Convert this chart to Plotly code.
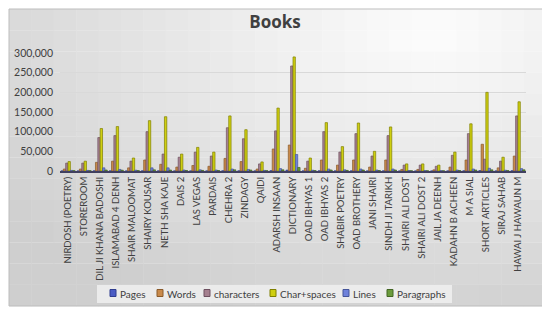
import math
import plotly.graph_objects as go

categories = ["NIRDOSH (POETRY)", "STOREROOM", "DIL JI KHANA BADOSHI", "ISLAMABAD 4 DENH",
              "SHAIR MALOOMAT", "SHAIRY KOUSAR", "NETH SHA KAJE", "DAIS 2", "LAS VEGAS",
              "PARDAIS", "CHEHRA 2", "ZINDAGY", "QAIDI", "ADARSH INSAAN", "DICTIONARY",
              "OAD IBHYAS 1", "OAD IBHYAS 2", "SHABIR POETRY", "OAD BROTHERY", "JANI SHAIRI",
              "SINDH JI TARIKH", "SHAIRI ALI DOST", "SHAIRI ALI DOST 2", "JAIL JA DEENH",
              "KADAHN B ACHEEN", "M A SIAL", "SHORT ARTICLES", "SIRAJ SAHAB", "HAWAI J HAWAUN M"]

pages = [60, 70, 300, 320, 100, 350, 380, 120, 170, 140, 400, 300, 60, 700, 2200,
         90, 350, 180, 340, 130, 330, 50, 50, 40, 130, 340, 900, 100, 480]
words = [5000, 5000, 22000, 25000, 8000, 28000, 17000, 10000, 14000, 12000, 32000, 24000,
         5000, 56000, 66000, 7000, 28000, 15000, 28000, 10000, 28000, 4000, 4000, 3000,
         10000, 28000, 68000, 8000, 38000]
characters = [20000, 20000, 85000, 90000, 25000, 100000, 43000, 35000, 48000, 38000, 110000,
              82000, 18000, 102000, 267000, 25000, 100000, 48000, 95000, 38000, 90000, 15000,
              15000, 12000, 40000, 95000, 30000, 25000, 140000]
char_spaces = [24000, 25000, 108000, 113000, 33000, 128000, 138000, 43000, 60000, 48000,
               140000, 105000, 23000, 160000, 290000, 33000, 123000, 62000, 122000, 50000,
               112000, 18000, 18000, 15000, 48000, 120000, 200000, 35000, 176000]
lines = [1500, 1500, 8000, 4000, 2000, 8000, 8000, 2500, 3000, 2500, 5000, 4000, 1500,
         6000, 42000, 2000, 5000, 3000, 5000, 2500, 5000, 1000, 1000, 800, 2500, 5000,
         7000, 2000, 6000]
paragraphs = [800, 800, 2500, 2000, 1000, 3000, 2500, 1200, 1500, 1200, 3000, 2500, 800,
              3000, 9000, 1000, 2500, 1500, 2500, 1200, 2500, 600, 600, 500, 1200, 2500,
              3000, 1000, 3000]
y_ticks = [0, 50000, 100000, 150000, 200000, 250000, 300000]

series = [
    ("Pages", pages, "#4a5bc4", "#2f3d8f"),
    ("Words", words, "#c98a4b", "#8a5a2a"),
    ("characters", characters, "#a5808f", "#6e5060"),
    ("Char+spaces", char_spaces, "#cfcf10", "#7f7f00"),
    ("Lines", lines, "#6f82db", "#45559a"),
    ("Paragraphs", paragraphs, "#6b9b3c", "#436623"),
]

# page pixel -> plot paper coordinates (page offset 8px by body margin)
PL, PR, PT, PB = 60, 526, 53, 171
def px(x):
    return (x - PL) / (PR - PL)
def py(y):
    return (PB - y) / (PB - PT)

fig = go.Figure()
for name, vals, color, border in series:
    fig.add_trace(go.Bar(name=name, x=categories, y=vals, showlegend=False,
                         marker=dict(color=color, line=dict(color=border, width=0.7))))

shapes = []
# soft radial-ish background gradient
NX, NY = 24, 14
x0p, x1p, y0p, y1p = 9, 546, 9, 306
for i in range(NX):
    for j in range(NY):
        u = (i + 0.5) / NX
        v = (j + 0.5) / NY
        d = math.sqrt((u - 0.78) ** 2 + (v - 0.08) ** 2)
        c = int(253 - 46 * min(1.0, d / 1.0))
        col = f"rgb({c},{c},{c})"
        xa = x0p + (x1p - x0p) * i / NX
        xb = x0p + (x1p - x0p) * (i + 1) / NX
        ya = y0p + (y1p - y0p) * j / NY
        yb = y0p + (y1p - y0p) * (j + 1) / NY
        shapes.append(dict(type="rect", xref="paper", yref="paper", layer="below",
                           x0=px(xa), x1=px(xb) + 0.001, y0=py(yb) - 0.001, y1=py(ya),
                           line=dict(width=0), fillcolor=col))
# outer border
shapes.append(dict(type="rect", xref="paper", yref="paper", layer="below",
                   x0=px(x0p), x1=px(x1p), y0=py(y1p), y1=py(y0p),
                   line=dict(color="#bdbdbd", width=1), fillcolor="rgba(0,0,0,0)"))
# legend box
shapes.append(dict(type="rect", xref="paper", yref="paper", layer="below",
                   x0=px(97), x1=px(452), y0=py(303), y1=py(285),
                   line=dict(width=0), fillcolor="rgba(240,240,240,0.85)"))

annotations = []
legend_pos = [110, 157, 204, 270, 343, 387]
for (name, vals, color, border), lx in zip(series, legend_pos):
    shapes.append(dict(type="rect", xref="paper", yref="paper",
                       x0=px(lx), x1=px(lx + 6), y0=py(296.5), y1=py(289.5),
                       line=dict(color=border, width=1), fillcolor=color))
    annotations.append(dict(xref="paper", yref="paper", x=px(lx + 8), y=py(293.5),
                            xanchor="left", yanchor="middle", showarrow=False,
                            text=name, font=dict(family="Lato", size=10, color="#404040")))

fig.update_layout(
    width=542, height=305,
    barmode="group", bargap=0.12, bargroupgap=0.0,
    paper_bgcolor="white", plot_bgcolor="rgba(0,0,0,0)",
    margin=dict(l=PL - 8, r=550 - PR, t=PT - 8, b=313 - PB, autoexpand=False),
    title=dict(text="<b>Books</b>", x=267 / 542, xanchor="center", y=1 - 14 / 305,
               yanchor="middle",
               font=dict(family="Open Sans", size=17, color="#404040")),
    font=dict(family="Lato", color="#404040"),
    showlegend=False,
    shapes=shapes,
    annotations=annotations,
)
fig.update_xaxes(tickangle=-90, tickfont=dict(family="Lato", size=9.5, color="#404040"),
                 showgrid=False, showline=True, linecolor="#404060", linewidth=2, ticks="",
                 automargin=False)
fig.update_yaxes(range=[0, 300000], tickvals=y_ticks,
                 tickformat=",", tickfont=dict(family="Lato", size=10.5, color="#404040"),
                 ticklabelstandoff=6,
                 showgrid=True, gridcolor="#d9d9d9", zeroline=False, automargin=False)

fig.write_html("out.html")
